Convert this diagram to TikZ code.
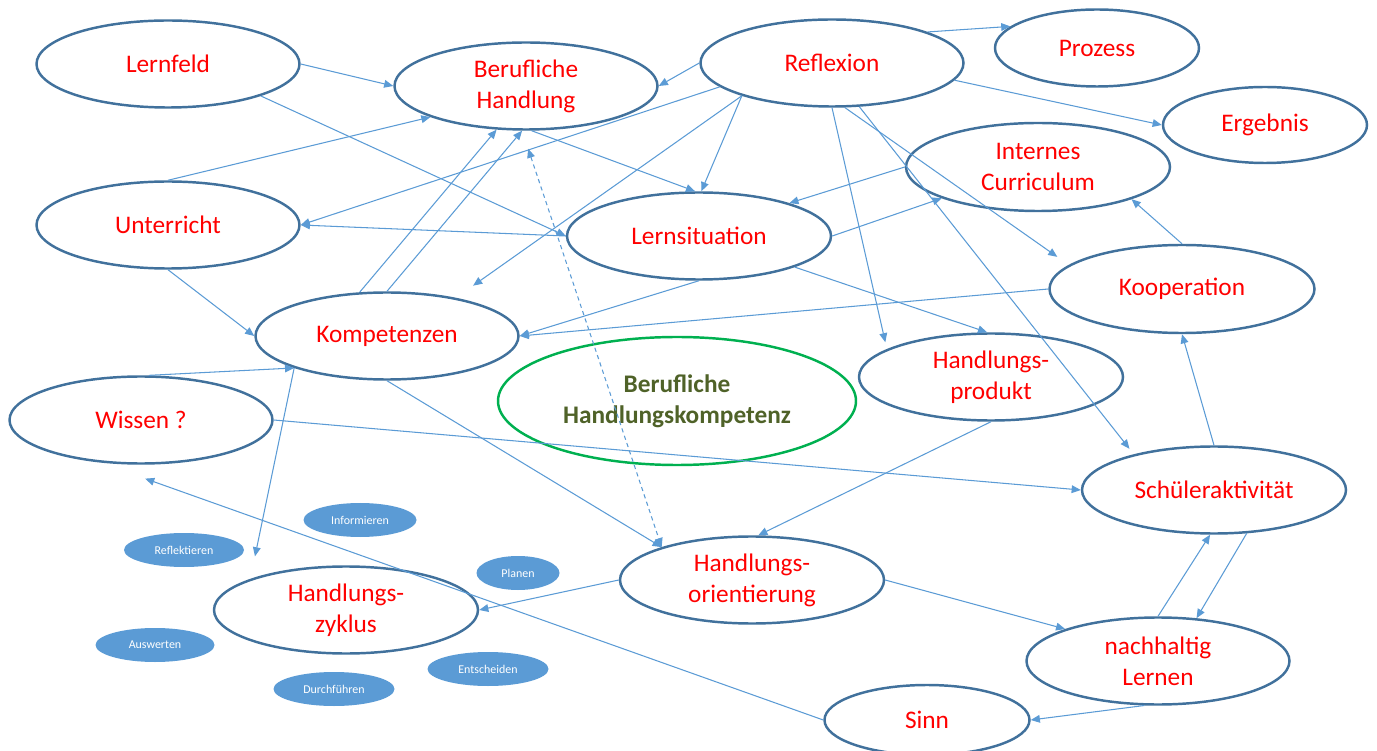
\documentclass[tikz,border=0pt]{standalone}
\usepackage{fontspec}
\setmainfont{Carlito}
\usetikzlibrary{shapes.geometric,arrows.meta}

\definecolor{rimblue}{HTML}{41719C}
\definecolor{linkblue}{HTML}{5B9BD5}
\definecolor{labelred}{HTML}{FF0000}
\definecolor{rimgreen}{HTML}{00B050}
\definecolor{labelgreen}{HTML}{4F6228}

\begin{document}
\begin{tikzpicture}[x=1cm,y=-1cm,>={Triangle[length=2.6pt,width=2.2pt]},
	bigell/.style={ellipse, draw=rimblue, line width=0.7pt, inner sep=0pt, align=center,
		text=labelred, font=\fontsize{7.2}{8.8}\selectfont,
		minimum width=2.63cm, minimum height=0.87cm},
	smallell/.style={ellipse, fill=linkblue, inner sep=0pt, text=white,
		font=\fontsize{3.4}{4}\selectfont, minimum width=1.2cm, minimum height=0.34cm},
	link/.style={->, linkblue, line width=0.3pt}]

	% Fix the frame
	\useasboundingbox (0,0) rectangle (13.77,7.51);

	% Draw the big ellipses
	\node[bigell] (lernfeld) at (1.68,0.64) {Lernfeld};
	\node[bigell] (handlung) at (5.26,0.86) {Berufliche\\Handlung};
	\node[bigell] (reflexion) at (8.32,0.63) {Reflexion};
	\node[bigell, minimum width=2.04cm, minimum height=0.77cm] (prozess) at (10.97,0.48) {Prozess};
	\node[bigell, minimum width=2.04cm, minimum height=0.76cm] (ergebnis) at (12.65,1.25) {Ergebnis};
	\node[bigell, minimum width=2.64cm, minimum height=0.88cm] (curriculum) at (10.38,1.67) {Internes\\Curriculum};
	\node[bigell] (unterricht) at (1.68,2.25) {Unterricht};
	\node[bigell, minimum width=2.64cm] (lernsituation) at (6.99,2.36) {Lernsituation};
	\node[bigell, minimum width=2.65cm, minimum height=0.88cm] (kooperation) at (11.82,2.89) {Kooperation};
	\node[bigell] (kompetenzen) at (3.87,3.36) {Kompetenzen};
	\node[bigell, minimum width=2.64cm] (produkt) at (9.91,3.77) {Handlungs-\\produkt};
	\node[bigell] (wissen) at (1.41,4.20) {Wissen ?};
	\node[bigell, minimum width=2.64cm] (aktivitaet) at (12.14,4.90) {Schüleraktivität};
	\node[bigell, minimum width=2.64cm] (orientierung) at (7.52,5.80) {Handlungs-\\orientierung};
	\node[bigell, minimum width=2.64cm] (zyklus) at (3.46,6.10) {Handlungs-\\zyklus};
	\node[bigell] (nachhaltig) at (11.58,6.61) {nachhaltig\\Lernen};
	\node[bigell, minimum width=2.05cm, minimum height=0.70cm] (sinn) at (9.27,7.20) {Sinn};

	% Draw the green centre ellipse
	\node[bigell, draw=rimgreen, text=labelgreen, font=\bfseries\fontsize{7.2}{8.8}\selectfont,
		minimum width=3.58cm, minimum height=1.28cm] (hkompetenz) at (6.77,4.01) {Berufliche\\Handlungskompetenz};

	% Draw the small filled ellipses of the cycle
	\node[smallell, minimum width=1.13cm] (informieren) at (3.60,5.20) {Informieren};
	\node[smallell] (reflektieren) at (1.84,5.50) {Reflektieren};
	\node[smallell, minimum width=0.83cm] (planen) at (5.18,5.73) {Planen};
	\node[smallell, minimum width=1.19cm] (auswerten) at (1.55,6.45) {Auswerten};
	\node[smallell, minimum width=1.21cm] (entscheiden) at (4.88,6.69) {Entscheiden};
	\node[smallell, minimum width=1.21cm] (durchfuehren) at (3.34,6.89) {Durchführen};

	% Draw the links from the left column
	\draw[link] (lernfeld.east) -- (handlung.west);
	\draw[link] (lernfeld.-19) -- (lernsituation.west);
	\draw[link] (unterricht.north) -- (handlung.198);
	\draw[link] (unterricht.south) -- (kompetenzen.west);
	\draw[link] (lernsituation.west) -- (unterricht.east);
	\draw[link] (kompetenzen.122) -- (handlung.236);
	\draw[link] (kompetenzen.north) -- (handlung.265);
	\draw[link] (wissen.80) -- (kompetenzen.199);
	\draw[link, shorten >=0.23cm] (kompetenzen.199) -- (zyklus.162);
	\draw[link] (wissen.east) -- (aktivitaet.west);
	\draw[link] (kompetenzen.south) -- (orientierung.160);

	% Draw the links leaving Reflexion
	\draw[link] (reflexion.west) -- (handlung.east);
	\draw[link] (reflexion.192) -- (unterricht.east);
	\draw[link] (reflexion.200) -- (lernsituation.87);
	\draw[link, shorten >=0.21cm] (reflexion.200) -- (kompetenzen.29);
	\draw[link, shorten >=0.07cm] (reflexion.south) -- (produkt.165);
	\draw[link, shorten >=0.14cm] (reflexion.286) -- (kooperation.168);
	\draw[link, shorten >=0.07cm] (reflexion.302) -- (aktivitaet.156);
	\draw[link] (reflexion.18) -- (prozess.166);
	\draw[link] (reflexion.-8) -- (ergebnis.west);

	% Draw the links round Lernsituation
	\draw[link] (handlung.277) -- (lernsituation.95);
	\draw[link] (lernsituation.south) -- (kompetenzen.east);
	\draw[link] (kooperation.west) -- (kompetenzen.east);
	\draw[link] (curriculum.west) -- (lernsituation.20);
	\draw[link] (lernsituation.east) -- (curriculum.198);
	\draw[link] (lernsituation.-18) -- (produkt.95);

	% Draw the dashed link
	\draw[link, <->, dashed, dash pattern=on 1.2pt off 1pt, shorten <=0.19cm] (handlung.265) -- (orientierung.160);

	% Draw the links on the right side
	\draw[link] (kooperation.north) -- (curriculum.-19);
	\draw[link] (aktivitaet.north) -- (kooperation.south);
	\draw[link] (produkt.south) -- (orientierung.82);
	\draw[link] (orientierung.west) -- (zyklus.east);
	\draw[link] (orientierung.east) -- (nachhaltig.161);
	\draw[link] (nachhaltig.north) -- (aktivitaet.265);
	\draw[link] (aktivitaet.-53) -- (nachhaltig.48);
	\draw[link] (nachhaltig.253) -- (sinn.east);
	\draw[link, shorten >=0.48cm] (sinn.west) -- (wissen.226);

\end{tikzpicture}
\end{document}
